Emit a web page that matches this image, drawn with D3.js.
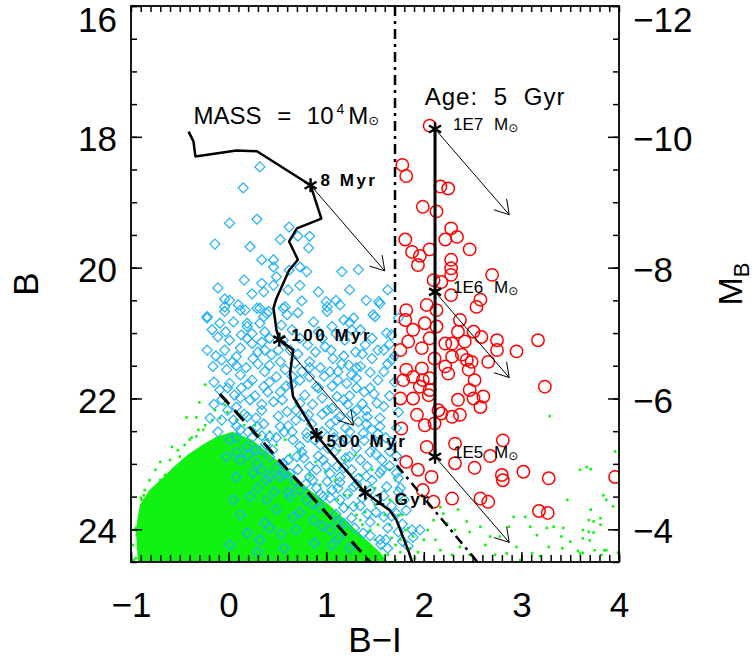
<!DOCTYPE html>
<html>
<head>
<meta charset="utf-8">
<script src="https://cdn.jsdelivr.net/npm/d3@7"></script>
<style>
  body { margin: 0; background: #fff; }
  text { font-family: "Liberation Sans", Arial, sans-serif; fill: #000; }
</style>
</head>
<body>
<div id="chart"></div>
<script>
// ---- axis ticks ----
const xTicks = [-1, 0, 1, 2, 3, 4];
const yTicks = [16, 18, 20, 22, 24];
const mTicks = [-12, -10, -8, -6, -4];
const distMod = 28;

// ---- 10^4 Msun evolutionary track (B-I, B) ----
const trackBI = [-0.41, -0.36, -0.34, 0.08, 0.29, 0.84, 0.95, 0.70, 0.62, 0.71, 0.62, 0.49, 0.46, 0.49, 0.52,
                 0.66, 0.63, 0.66, 0.90, 1.14, 1.40, 1.65, 1.72, 1.84, 1.88];
const trackB  = [17.92, 18.07, 18.30, 18.21, 18.22, 18.74, 19.25, 19.40, 19.60, 19.88, 20.04, 20.47, 20.62, 20.95, 21.10,
                 21.26, 21.62, 21.97, 22.56, 22.99, 23.44, 23.71, 23.86, 24.32, 24.50];

// ages marked on the track
const ageNames = ['8 Myr', '100 Myr', '500 Myr', '1 Gyr'];
const ageBI = [0.84, 0.52, 0.90, 1.40];
const ageB  = [18.74, 21.10, 22.56, 23.44];

// 5 Gyr cluster masses
const massNames = ['1E7', '1E6', '1E5'];
const massBI = [2.115, 2.115, 2.115];
const massB  = [17.88, 20.37, 22.89];

// reddening vector (delta B-I, delta B)
const reddenBI = 0.76;
const reddenB  = 1.31;

// selection limits
const dashBI = [-0.09, 1.45];
const dashB  = [21.93, 24.50];
const dashDotBI = [1.705, 1.705, 2.55];
const dashDotB  = [16.0, 22.99, 24.50];

// green dense core outline
const greenCore = [[-0.93,24.50],[-0.95,24.01],[-0.91,23.63],[-0.81,23.40],[-0.68,23.22],[-0.55,23.03],[-0.42,22.86],
  [-0.27,22.71],[-0.13,22.59],[0.04,22.51],[0.24,22.63],[0.42,22.85],[0.63,23.12],[0.83,23.40],[1.04,23.64],
  [1.22,23.89],[1.39,24.13],[1.55,24.35],[1.63,24.50]];

// green individual points
const greenPts = [[3.29,22.27],[3.96,22.81],[3.60,23.09],[3.67,23.05],[3.71,23.08],[3.47,23.55],[3.84,23.48],[3.87,23.55],
  [3.94,23.65],[3.71,23.70],[3.81,23.83],[3.69,23.86],[3.81,23.93],[3.43,23.98],[3.69,24.04],[3.63,24.01],[3.74,24.05],
  [3.41,24.11],[3.50,24.19],[3.63,24.14],[3.70,24.17],[3.42,24.29],[3.58,24.33],[3.63,24.36],[3.82,24.39],[3.85,24.32],
  [3.99,24.36],[3.26,23.98],[3.33,23.96],[2.92,23.81],[3.04,23.81],[3.09,23.96],[3.16,24.09],[2.95,24.27],[3.11,24.37],
  [3.60,24.37],[3.75,24.32],[3.87,24.32],[3.74,23.88],[2.85,24.37],[2.78,24.11],[2.68,24.11],[2.58,23.96],[2.47,24.04],
  [2.35,23.70],[2.44,23.88],[2.24,23.91],[2.37,24.27],[2.17,24.32],[2.29,24.39],[2.20,23.76],[2.10,23.86],[2.00,24.16],
  [1.89,24.11],[1.65,23.09],[2.17,23.66],[2.99,24.47],[3.28,24.27],[2.87,23.96],[1.81,23.55],[1.74,23.78],[2.04,24.01],
  [1.94,24.35],[2.12,24.16],[2.47,24.39],[2.63,24.24],[2.73,24.39],[3.19,24.41],[2.32,24.01],
  [-0.30,22.06],[-0.43,22.29],[-0.33,22.29],[-0.58,22.74],[-0.50,22.89],[-0.33,22.58],[-0.46,23.04],[-0.57,23.09],
  [-0.87,23.48],[-0.89,23.55],[-0.77,23.53],[-0.63,23.45],[-0.74,23.70],[-0.84,23.76],[-0.60,23.65],[-0.87,23.91],
  [-0.70,23.96],[-0.84,24.16],[-0.96,24.01],[-0.93,24.29],[-0.81,24.39],[-0.95,24.44],[-0.75,24.24],[-0.68,24.13],
  [-0.83,24.01],[-0.91,23.78],[-0.65,23.78],[-0.55,23.32],[-0.40,23.25],[-0.24,21.79],[-0.26,22.48],[-0.40,22.63],
  [-0.70,23.25],[1.30,22.86],[1.47,23.09],[1.60,23.40],[1.74,23.55],[1.14,22.79],[1.35,23.40],[1.50,23.63],[1.65,23.93],
  [1.71,24.24],[1.60,24.39],[1.45,24.29],[-0.14,22.18],[-0.04,22.10],[0.12,22.25],[0.27,22.41],[0.42,22.51],[0.58,22.63],
  [0.73,22.82],[0.89,22.97],[0.99,23.12],[1.09,23.25],[1.19,23.48],[1.30,23.63],[1.35,23.86],[1.45,24.01],
  [-0.98,24.24],[-0.97,24.47],[-0.94,24.09],[-0.92,23.86],[-0.89,23.64],[-0.86,23.40],[-0.81,23.25],[-0.75,23.09],
  [-0.70,22.97],[-0.72,23.32],[-0.65,23.17],[-0.60,22.94],[-0.52,22.79],[-0.45,22.71],[-0.38,22.60],[-0.31,22.48],
  [-0.24,22.41],[-0.17,22.33],[-0.09,22.30],[-0.01,22.21],[0.08,22.33],[0.16,22.41],[0.24,22.48],[0.32,22.56],
  [0.40,22.63],[0.49,22.71],[0.63,22.86],[0.71,23.02],[0.83,23.17],[0.94,23.32],[1.02,23.43],[1.12,23.55],[1.22,23.67],
  [1.31,23.78],[1.37,23.93],[1.43,24.04],[1.50,24.16],[1.57,24.29],[1.63,24.39],[1.71,24.47],[1.76,24.35],[1.53,23.93],
  [1.67,24.13],[1.40,23.74],[1.24,23.48],[-0.91,24.35],[-0.87,24.19],[-0.95,23.98],[-0.90,23.52],[-0.79,23.43],
  [1.04,22.71],[1.19,22.94],[1.35,23.17],[1.50,23.37],[1.65,23.55],[1.78,23.78],[1.84,23.98],[1.71,23.25],
  [1.76,24.16],[1.81,24.01],[1.86,24.29],[1.91,24.44],[1.74,23.93],[1.60,23.78],[1.50,23.63]];

// blue diamonds
const bluePts = [[0.32,18.46],[0.15,18.78],[0.01,19.32],[0.29,19.26],[-0.14,19.64],[0.22,19.68],[0.62,19.38],[0.53,19.57],
  [0.71,19.52],[0.83,19.52],[0.82,19.70],[0.34,19.88],[0.46,19.88],[0.46,19.99],[0.34,20.24],[0.49,20.14],[0.46,20.27],
  [0.62,20.04],[0.73,19.99],[0.80,20.06],[1.16,20.06],[1.33,20.03],[0.36,20.37],[-0.04,20.48],[0.10,20.57],[-0.22,20.75],
  [-0.04,20.67],[0.17,20.65],[0.05,20.83],[0.19,20.85],[0.32,20.62],[0.36,20.75],[0.41,20.67],[0.56,20.62],[0.60,20.72],
  [0.75,20.51],[0.71,20.69],[1.00,20.52],[1.01,20.67],[1.28,20.77],[1.50,20.75],[1.54,20.52],[1.24,20.84],
  [-0.04,20.60],[0.12,20.65],[0.29,20.62],[0.39,20.70],[0.58,20.60],[1.01,20.60],[1.14,20.57],[1.55,20.55],[1.48,20.72],
  [-0.22,20.77],[-0.09,20.85],[0.19,20.90],[0.32,20.85],[0.37,20.98],[0.54,20.88],[0.87,20.83],[1.06,20.90],[1.18,20.80],
  [1.35,20.95],[1.62,21.00],[-0.22,21.26],[-0.11,21.06],[0.01,21.11],[0.13,21.03],[0.24,21.16],[0.37,21.26],[-0.04,21.26],
  [0.08,21.36],[0.25,21.39],[0.44,21.33],[0.68,21.46],[0.83,21.44],[0.99,21.21],[1.07,21.39],[1.23,21.49],[1.35,21.51],
  [1.47,21.39],[1.59,21.26],[-0.16,21.51],[-0.02,21.56],[0.12,21.64],[0.24,21.72],[0.37,21.59],[0.49,21.67],[0.01,21.77],
  [0.13,21.84],[0.36,21.82],[0.53,21.90],[0.83,21.67],[0.90,21.82],[1.04,21.59],[1.21,21.77],[1.31,21.69],[1.45,21.84],
  [1.59,21.59],[1.52,22.07],[1.11,21.97],[1.18,22.02],[-0.07,22.02],[0.08,22.13],[0.22,22.02],[0.34,22.18],[0.46,22.05],
  [0.60,22.20],[0.73,22.07],[0.82,22.25],[1.01,22.18],[1.14,22.28],[1.31,22.18],[1.42,22.28],[1.55,22.43],[-0.19,22.30],
  [0.05,22.33],[0.19,22.28],[0.12,22.48],[0.29,22.43],[0.42,22.58],[0.53,22.43],[0.66,22.63],[0.80,22.53],[0.94,22.71],
  [1.07,22.53],[1.21,22.63],[1.38,22.53],[1.50,22.69],[1.65,22.81],[0.01,22.63],[0.19,22.74],[0.34,22.79],[-0.02,22.89],
  [0.12,22.94],[0.29,22.99],[0.42,22.89],[0.56,22.99],[0.70,22.89],[0.83,23.04],[0.97,22.94],[1.11,23.04],[1.24,22.89],
  [1.42,23.04],[1.55,23.14],[1.72,23.14],[0.08,23.20],[0.25,23.14],[0.39,23.25],[0.53,23.20],[0.68,23.27],[0.83,23.20],
  [1.01,23.27],[1.14,23.20],[1.28,23.35],[1.62,23.35],[0.05,23.55],[0.22,23.50],[0.39,23.55],[0.63,23.50],[0.80,23.55],
  [0.97,23.50],[1.14,23.55],[1.28,23.65],[1.42,23.76],[1.59,23.81],[1.72,23.76],[0.19,24.06],[0.32,24.16],[0.66,23.81],
  [0.87,23.86],[1.04,24.01],[1.18,23.91],[1.38,24.06],[1.55,24.16],[1.89,24.12],[1.96,24.01],[0.37,23.90],[0.54,24.07],
  [0.88,24.21],[1.13,24.13],[1.56,24.23],[1.63,24.29],[1.78,24.18],[1.88,24.01],
  [0.19,21.08],[0.30,21.29],[0.56,21.11],[0.63,21.26],[0.73,21.08],[0.92,20.98],[1.19,21.11],[1.30,21.29],[1.40,21.18],
  [1.67,21.41],[0.04,21.44],[0.18,21.53],[0.42,21.49],[0.58,21.56],[0.75,21.59],[0.94,21.53],[1.12,21.59],[1.26,21.64],
  [1.39,21.90],[1.53,21.72],[-0.09,21.87],[0.06,21.95],[0.27,21.96],[0.40,21.90],[0.65,21.79],[0.78,21.95],[0.96,21.99],
  [1.06,21.81],[1.24,21.96],[1.37,22.08],[1.65,21.96],[-0.01,22.18],[0.16,22.24],[0.28,22.30],[0.51,22.27],[0.69,22.33],
  [0.85,22.39],[1.04,22.39],[1.20,22.45],[1.33,22.36],[1.47,22.48],[1.61,22.60],[-0.11,22.51],[0.08,22.60],[0.24,22.60],
  [0.38,22.70],[0.57,22.51],[0.73,22.73],[0.88,22.63],[1.02,22.76],[1.14,22.67],[1.31,22.76],[1.45,22.82],[1.57,22.94],
  [0.20,22.86],[0.34,23.09],[0.49,23.06],[0.63,23.15],[0.77,22.91],[0.90,23.09],[1.04,23.15],[1.18,23.06],[1.33,23.22],
  [1.47,23.25],[1.65,23.03],[1.76,23.37],[0.30,23.37],[0.47,23.43],[0.73,23.40],[0.90,23.37],[1.06,23.40],[1.22,23.46],
  [1.37,23.52],[1.51,23.55],[1.67,23.64],[1.80,23.55],[0.12,23.78],[0.49,23.70],[0.73,23.74],[0.94,23.67],[1.10,23.77],
  [1.26,23.83],[1.45,23.89],[1.63,23.98],[1.78,23.92],
  [-0.17,20.95],[-0.03,20.98],[0.24,21.01],[0.42,21.08],[0.65,20.95],[0.81,21.18],[0.96,21.08],[1.10,21.01],[1.26,20.95],
  [1.47,21.08],[1.65,21.17],[-0.13,21.35],[0.12,21.23],[0.34,21.14],[0.51,21.26],[0.71,21.32],[0.89,21.29],[1.05,21.26],
  [1.18,21.35],[1.37,21.32],[1.53,21.26],[1.70,21.35],[-0.07,21.41],[0.08,21.50],[0.30,21.47],[0.53,21.44],[0.65,21.66],
  [0.83,21.53],[0.98,21.66],[1.16,21.47],[1.31,21.53],[1.45,21.60],[1.63,21.47],[-0.15,21.75],[-0.01,21.84],[0.20,21.78],
  [0.42,21.75],[0.59,21.81],[0.73,21.72],[0.92,21.84],[1.12,21.72],[1.31,21.84],[1.49,21.93],[1.70,21.75],[-0.15,22.09],
  [0.12,21.99],[0.34,22.09],[0.55,22.02],[0.69,22.18],[0.86,22.09],[1.06,22.15],[1.22,22.09],[1.41,22.18],[1.59,22.12],
  [1.74,22.21],[-0.07,22.33],[0.08,22.42],[0.36,22.39],[0.61,22.42],[0.77,22.27],[0.96,22.24],[1.10,22.33],[1.26,22.24],
  [1.41,22.39],[1.55,22.30],[1.72,22.45],[0.20,22.51],[0.34,22.57],[0.49,22.60],[0.65,22.51],[0.81,22.60],[0.96,22.51],
  [1.08,22.60],[1.24,22.51],[1.39,22.64],[1.53,22.54],[1.67,22.67],[0.08,22.82],[0.28,22.79],[0.45,22.79],[0.61,22.94],
  [0.75,22.82],[0.92,22.88],[1.08,22.82],[1.20,22.91],[1.35,22.94],[1.51,22.85],[1.72,22.88],[0.42,23.19],[0.57,23.16],
  [0.71,23.09],[0.86,23.25],[1.00,23.03],[1.14,23.28],[1.26,23.09],[1.41,23.19],[1.57,23.09],[1.74,23.22],[0.61,23.43],
  [0.79,23.31],[0.94,23.46],[1.12,23.37],[1.31,23.31],[1.45,23.40],[1.59,23.49],[1.74,23.43],[0.86,23.61],[1.04,23.52],
  [1.18,23.67],[1.35,23.64],[1.51,23.74],[1.67,23.80],[1.82,23.71],[0.96,23.95],[1.12,23.89],[1.29,23.98],[1.45,24.10],
  [1.61,24.16],[1.74,24.04],[1.84,24.26],[1.24,24.29],[1.06,24.24],[0.69,24.01],[0.42,23.98],[0.57,24.29],[0.01,24.24],
  [0.30,24.35],[-0.11,20.31],[0.16,20.19],[0.01,20.50],[0.24,20.40],[0.61,20.34],[0.73,20.27],[0.92,20.37],[1.10,20.50],
  [1.24,20.34],[1.41,20.50],[1.63,20.34],[1.74,20.77],[1.67,21.03]];

// red circles
const redPts = [[2.06,17.83],[1.78,18.43],[1.82,18.60],[2.17,18.76],[2.25,18.79],[1.99,19.07],[2.13,19.14],[2.28,19.40],
  [2.34,19.53],[2.22,19.57],[1.81,19.57],[2.47,19.72],[1.88,19.76],[2.06,19.72],[1.96,19.82],[1.94,19.96],[2.28,19.88],
  [2.28,20.01],[2.28,20.11],[2.70,20.11],[2.10,20.19],[2.18,20.22],[2.28,20.42],[2.58,20.49],[2.54,20.60],[1.82,20.65],
  [2.03,20.57],[2.13,20.65],[1.81,20.80],[2.01,20.85],[1.89,20.95],[2.13,20.90],[2.37,20.80],[2.35,20.98],[2.51,20.98],
  [2.59,21.06],[2.75,21.11],[3.17,21.11],[1.84,21.13],[1.98,21.23],[2.06,21.08],[2.22,21.16],[2.29,21.16],[2.42,21.13],
  [2.75,21.26],[2.95,21.28],[1.76,21.26],[2.11,21.39],[2.29,21.36],[2.39,21.33],[2.44,21.41],[2.49,21.44],[2.66,21.44],
  [2.22,21.51],[1.82,21.56],[1.98,21.54],[1.89,21.67],[1.79,21.72],[1.99,21.72],[2.06,21.69],[2.25,21.62],[2.46,21.56],
  [2.52,21.72],[1.96,21.82],[2.06,21.87],[2.47,21.87],[3.24,21.82],[1.76,22.00],[1.89,22.00],[2.05,21.95],[2.35,22.02],
  [2.61,21.97],[2.51,22.00],[2.58,22.13],[2.15,22.18],[2.18,22.23],[1.93,22.25],[2.29,22.28],[2.37,22.25],[2.01,22.41],
  [2.11,22.38],[1.77,22.46],[2.81,22.64],[2.03,22.74],[2.32,22.69],[2.68,22.88],[2.32,22.99],[1.82,22.97],[2.52,23.06],
  [3.02,23.12],[2.80,23.17],[2.81,23.25],[3.28,23.22],[3.96,23.20],[1.94,23.09],[2.08,23.20],[1.99,23.40],[2.58,23.53],
  [2.66,23.58],[2.29,23.53],[2.10,23.58],[3.18,23.72],[3.27,23.75]];

// ---- layout ----
const W = 756, H = 670;
const margin = {top: 6, right: 137, bottom: 108, left: 131};
const width = W - margin.left - margin.right,
      height = H - margin.top - margin.bottom;
const GREEN = '#12f212', BLUE = '#1eb0fa', RED = '#ff0000';

const svg = d3.select('#chart').append('svg').attr('width', W).attr('height', H);
const g = svg.append('g').attr('transform', 'translate(' + margin.left + ',' + margin.top + ')');

const x = d3.scaleLinear().domain([-1, 4]).range([0, width]);
const y = d3.scaleLinear().domain([16, 24.5]).range([0, height]);
const yM = d3.scaleLinear().domain([16 - distMod, 24.5 - distMod]).range([0, height]);

g.append('clipPath').attr('id', 'clip').append('rect').attr('width', width).attr('height', height);
const plot = g.append('g').attr('clip-path', 'url(#clip)');

// green points
plot.append('path').datum(greenCore)
    .attr('d', d3.line().x(d => x(d[0])).y(d => y(d[1])))
    .attr('fill', GREEN);
plot.selectAll('.gdot').data(greenPts).join('rect')
    .attr('class', 'gdot')
    .attr('x', d => x(d[0]) - 1.3).attr('y', d => y(d[1]) - 1.3)
    .attr('width', 2.6).attr('height', 2.6)
    .attr('fill', GREEN);

// blue diamonds
plot.selectAll('.bd').data(bluePts).join('path')
    .attr('class', 'bd')
    .attr('transform', d => 'translate(' + x(d[0]) + ',' + y(d[1]) + ')')
    .attr('d', 'M0,-5L5,0L0,5L-5,0Z')
    .attr('fill', 'none').attr('stroke', BLUE).attr('stroke-width', 1.2);

// red circles
plot.selectAll('.rc').data(redPts).join('circle')
    .attr('class', 'rc')
    .attr('cx', d => x(d[0])).attr('cy', d => y(d[1])).attr('r', 6.2)
    .attr('fill', 'none').attr('stroke', RED).attr('stroke-width', 1.5);

const line = d3.line().x(d => x(d[0])).y(d => y(d[1]));

// selection lines
plot.append('path').datum(d3.zip(dashBI, dashB))
    .attr('d', line).attr('fill', 'none').attr('stroke', '#000')
    .attr('stroke-width', 3).attr('stroke-dasharray', '14,8');
plot.append('path').datum(d3.zip(dashDotBI, dashDotB))
    .attr('d', line).attr('fill', 'none').attr('stroke', '#000')
    .attr('stroke-width', 2.5).attr('stroke-dasharray', '10,5,3,5');

// track
plot.append('path').datum(d3.zip(trackBI, trackB))
    .attr('d', line).attr('fill', 'none').attr('stroke', '#000')
    .attr('stroke-width', 2.5).attr('stroke-linejoin', 'round');

// 5 Gyr mass sequence
plot.append('path').datum(d3.zip(massBI, massB))
    .attr('d', line).attr('fill', 'none').attr('stroke', '#000').attr('stroke-width', 3);

// reddening arrows
function arrow(bi, b) {
    const x0 = x(bi), y0 = y(b), x1 = x(bi + reddenBI), y1 = y(b + reddenB);
    const a = Math.atan2(y1 - y0, x1 - x0), L = 16, s = 0.55;
    return 'M' + x0 + ',' + y0 + 'L' + x1 + ',' + y1 +
        'M' + (x1 - L * Math.cos(a - s)) + ',' + (y1 - L * Math.sin(a - s)) + 'L' + x1 + ',' + y1 +
        'L' + (x1 - L * Math.cos(a + s)) + ',' + (y1 - L * Math.sin(a + s));
}
const arrowPts = d3.zip(ageBI.slice(0, 2), ageB.slice(0, 2)).concat(d3.zip(massBI, massB));
plot.selectAll('.arr').data(arrowPts).join('path')
    .attr('class', 'arr')
    .attr('d', d => arrow(d[0], d[1]))
    .attr('fill', 'none').attr('stroke', '#000').attr('stroke-width', 1);

// asterisks
const star = 'M0,-7L0,7M-6,-3.5L6,3.5M-6,3.5L6,-3.5';
const starPts = d3.zip(ageBI, ageB).concat(d3.zip(massBI, massB));
g.selectAll('.star').data(starPts).join('path')
    .attr('class', 'star')
    .attr('transform', d => 'translate(' + x(d[0]) + ',' + y(d[1]) + ')')
    .attr('d', star).attr('stroke', '#000').attr('stroke-width', 2.4);

// age labels
const ageOffset = [[10, 1], [12, 1], [10, 12], [10, 12]];
g.selectAll('.age').data(ageNames).join('text')
    .attr('class', 'age')
    .attr('x', (d, i) => x(ageBI[i]) + ageOffset[i][0])
    .attr('y', (d, i) => y(ageB[i]) + ageOffset[i][1])
    .attr('font-size', 17).attr('font-weight', 'bold').attr('letter-spacing', 2.5)
    .text(d => d);

// mass labels
const massLab = g.selectAll('.mass').data(massNames).join('text')
    .attr('class', 'mass')
    .attr('x', (d, i) => x(massBI[i]) + 18)
    .attr('y', (d, i) => y(massB[i]) + 1.5)
    .attr('font-size', 17).attr('word-spacing', 6);
massLab.append('tspan').text(d => d + ' M');
massLab.append('tspan').attr('font-size', 12).attr('dy', 2).attr('font-family', 'DejaVu Sans').text('\u2299');

// titles inside the plot
const massTitle = g.append('text')
    .attr('x', x(-0.36)).attr('y', y(17.80))
    .attr('font-size', 24).attr('word-spacing', 9);
massTitle.append('tspan').text('MASS = 10');
massTitle.append('tspan').attr('font-size', 14).attr('dy', -10).attr('dx', 3).text('4');
massTitle.append('tspan').attr('dy', 10).attr('dx', 4).text('M');
massTitle.append('tspan').attr('font-size', 13).attr('dy', 1).attr('font-family', 'DejaVu Sans').text('\u2299');

g.append('text')
    .attr('x', x(2.01)).attr('y', y(17.51))
    .attr('font-size', 24).attr('word-spacing', 8).attr('letter-spacing', 1)
    .text('Age: 5 Gyr');

// ---- axes ----
const minus = d => (d < 0 ? '\u2212' + Math.abs(d) : '' + d);
const xMinor = d3.range(-10, 41).map(v => v / 10);
const yMinor = d3.range(32, 50).map(v => v / 2);
const mMinor = d3.range(-24, -6).map(v => v / 2);

function styleAxis(sel) {
    sel.select('.domain').remove();
    sel.selectAll('line').attr('stroke', '#000').attr('stroke-width', 1.5);
    sel.selectAll('text').attr('font-size', 35).attr('fill', '#000')
       .attr('font-family', '"Liberation Sans", Arial, sans-serif');
}

// bottom
g.append('g').attr('transform', 'translate(0,' + height + ')')
    .call(d3.axisBottom(x).tickValues(xMinor).tickSize(-7).tickFormat(''))
    .call(styleAxis);
g.append('g').attr('transform', 'translate(0,' + height + ')')
    .call(d3.axisBottom(x).tickValues(xTicks).tickSize(-10).tickPadding(30).tickFormat(minus))
    .call(styleAxis);
// top
g.append('g')
    .call(d3.axisTop(x).tickValues(xMinor).tickSize(-6).tickFormat(''))
    .call(styleAxis);
// left
g.append('g')
    .call(d3.axisLeft(y).tickValues(yMinor).tickSize(-6).tickFormat(''))
    .call(styleAxis);
const leftAx = g.append('g')
    .call(d3.axisLeft(y).tickValues(yTicks).tickSize(-11).tickPadding(14).tickFormat(d => d))
    .call(styleAxis);
// right
g.append('g').attr('transform', 'translate(' + width + ',0)')
    .call(d3.axisRight(yM).tickValues(mMinor).tickSize(-6).tickFormat(''))
    .call(styleAxis);
const rightAx = g.append('g').attr('transform', 'translate(' + width + ',0)')
    .call(d3.axisRight(yM).tickValues(mTicks).tickSize(-11).tickPadding(14).tickFormat(minus))
    .call(styleAxis);

// keep the top labels inside the picture
[leftAx, rightAx].forEach(ax => ax.selectAll('.tick text')
    .attr('y', function () {
        const ty = +d3.select(this.parentNode).attr('transform').match(/,([-\d.]+)/)[1];
        return Math.max(2.5, 15 - ty);
    }));

// frame
g.append('rect').attr('width', width).attr('height', height)
    .attr('fill', 'none').attr('stroke', '#000').attr('stroke-width', 1.8);

// axis titles
svg.append('text')
    .attr('transform', 'translate(' + (margin.left + width / 2) + ',' + 652 + ')')
    .attr('text-anchor', 'middle').attr('font-size', 35)
    .text('B\u2212I');
svg.append('text')
    .attr('transform', 'translate(38,' + (margin.top + height / 2) + ') rotate(-90)')
    .attr('text-anchor', 'middle').attr('font-size', 35)
    .text('B');
const mTitle = svg.append('text')
    .attr('transform', 'translate(742,' + (margin.top + height / 2) + ') rotate(-90)')
    .attr('text-anchor', 'middle').attr('font-size', 34);
mTitle.append('tspan').text('M');
mTitle.append('tspan').attr('font-size', 22).attr('dy', 7).text('B');
</script>
</body>
</html>
